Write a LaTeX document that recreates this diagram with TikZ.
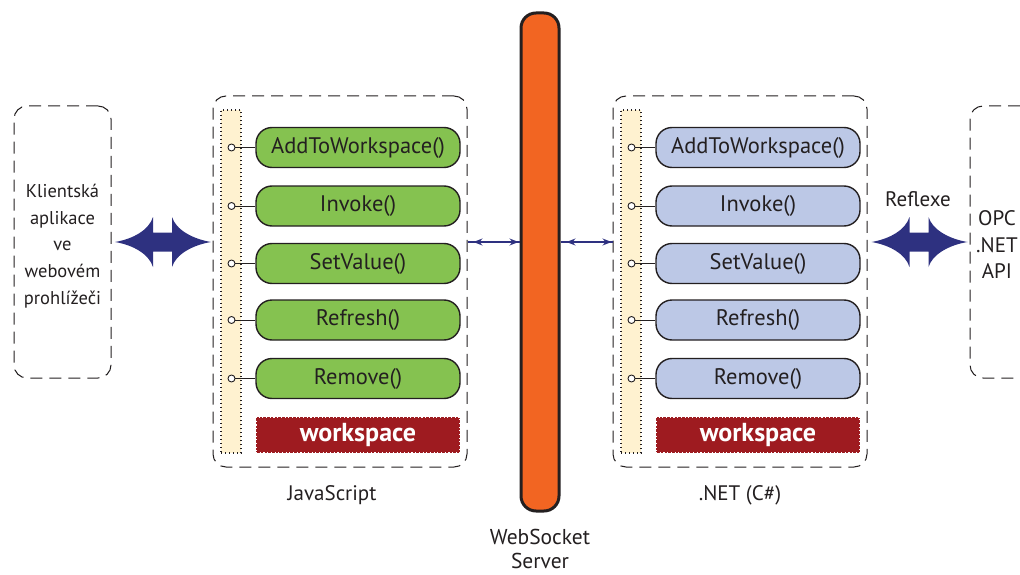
\documentclass[tikz,border=0pt]{standalone}
\usepackage{fontspec}
\setmainfont{PT Sans}
\usetikzlibrary{arrows.meta,calc}
\definecolor{navy}{RGB}{46,49,128}
\definecolor{jsgreen}{RGB}{133,194,80}
\definecolor{netblue}{RGB}{188,200,230}
\definecolor{wsred}{RGB}{158,27,32}
\definecolor{cream}{RGB}{255,242,208}
\definecolor{orangebar}{RGB}{242,101,34}
\definecolor{edge}{RGB}{35,31,32}
\begin{document}
\begin{tikzpicture}[x=1pt,y=-1pt,
  every node/.style={text=edge, font=\fontsize{21}{26}\selectfont},
  dashbox/.style={draw=edge, line width=1pt, dash pattern=on 12pt off 7pt, rounded corners=13pt, minimum width=#1},
  dashbox/.default=97pt,
  strip/.style={draw=edge, fill=cream, line width=1.1pt, dash pattern=on 1.1pt off 2.9pt, minimum width=20pt, minimum height=343pt, inner sep=0pt},
  pill/.style={draw=edge, line width=1.4pt, rounded corners=16pt, minimum width=204pt, minimum height=40pt, inner sep=0pt, fill=#1, font=\fontsize{22.5}{26}\selectfont},
  port/.style={circle, draw=edge, fill=white, line width=0.9pt, minimum size=7pt, inner sep=0pt},
  wsbox/.style={fill=wsred, draw=white, line width=1.1pt, dash pattern=on 1.1pt off 2.6pt, minimum width=204pt, minimum height=36pt, inner sep=0pt, text=white, font=\fontsize{26}{28}\selectfont\bfseries},
  smallarrow/.style={navy, line width=1.3pt, {Stealth[length=9pt,width=7pt]}-{Stealth[length=9pt,width=7pt]}},
  label/.style={align=center}
]
\useasboundingbox (0,0) rectangle (1020,575);

% outer boxes
\node[dashbox, minimum height=272pt] (client) at (62.5,242) {};
\node[label, font=\fontsize{18.5}{26.7}\selectfont] (clienttext) at (62.5,246) {Klientská\\aplikace\\ve\\webovém\\prohlížeči};
\node[dashbox=120pt, minimum height=272pt] (opc) at (1030,242) {};
\node[label, font=\fontsize{21}{26.5}\selectfont] (opctext) at (997,245) {OPC\\.NET\\API};

% JavaScript side
\node[dashbox=254pt, minimum height=371pt] (js) at (340,281.5) {};
\node[strip] (jsstrip) at (231,281.5) {};
\foreach \n/\t/\y in {1/AddToWorkspace()/147.5, 2/Invoke()/206, 3/SetValue()/263.5, 4/Refresh()/320, 5/Remove()/378.5}{
  \node[pill=jsgreen] (jsp\n) at (358,\y) {\t};
  \node[port] (jsc\n) at (231.5,\y) {};
  \draw[edge, line width=0.9pt] (jsc\n) -- (jsp\n.west);
}
\node[wsbox] (jsws) at (358,435) {workspace};
\node (jslabel) at (332,495) {JavaScript};

% .NET side
\node[dashbox=254pt, minimum height=371pt] (net) at (740,281.5) {};
\node[strip] (netstrip) at (631,281.5) {};
\foreach \n/\t/\y in {1/AddToWorkspace()/147.5, 2/Invoke()/206, 3/SetValue()/263.5, 4/Refresh()/320, 5/Remove()/378.5}{
  \node[pill=netblue] (netp\n) at (758,\y) {\t};
  \node[port] (netc\n) at (631.5,\y) {};
  \draw[edge, line width=0.9pt] (netc\n) -- (netp\n.west);
}
\node[wsbox] (netws) at (758,435) {workspace};
\node (netlabel) at (740,495) {.NET (C\#)};

% WebSocket server bar
\node[draw=edge, line width=3pt, fill=orangebar, rounded corners=15pt, minimum width=38pt, minimum height=498pt, inner sep=0pt] (bar) at (540,262) {};
\node[label, font=\fontsize{21.5}{24}\selectfont] (barlabel) at (540,549) {WebSocket\\Server};

% small arrows
\draw[navy, line width=1.3pt] (js.east |- client.east) -- (bar.west |- client.east);
\draw[smallarrow, shorten <=6pt, shorten >=1pt] (js.east |- client.east) -- (bar.west |- client.east);
\draw[navy, line width=1.3pt] (bar.east |- client.east) -- (net.west |- client.east);
\draw[smallarrow, shorten <=6pt, shorten >=1pt] (bar.east |- client.east) -- (net.west |- client.east);

% big double arrows
\newcommand{\bigdbl}{(0,0) .. controls (18,-3) and (34,-12) .. (38,-25) -- (38,-9.5) -- (57,-9.5) -- (57,-25) .. controls (61,-12) and (78,-3) .. (96,0) .. controls (78,3) and (61,12) .. (57,25) -- (57,9.5) -- (38,9.5) -- (38,25) .. controls (34,12) and (18,3) .. (0,0) -- cycle}
\coordinate (la) at ($(client.east)+(3.5,0)$);
\fill[navy, shift={(la)}] \bigdbl;
\coordinate (ra) at ($(net.east |- client.east)+(4,0)$);
\fill[navy, shift={(ra)}] \bigdbl;
\node (reflexe) at (918,199) {Reflexe};
\end{tikzpicture}
\end{document}
